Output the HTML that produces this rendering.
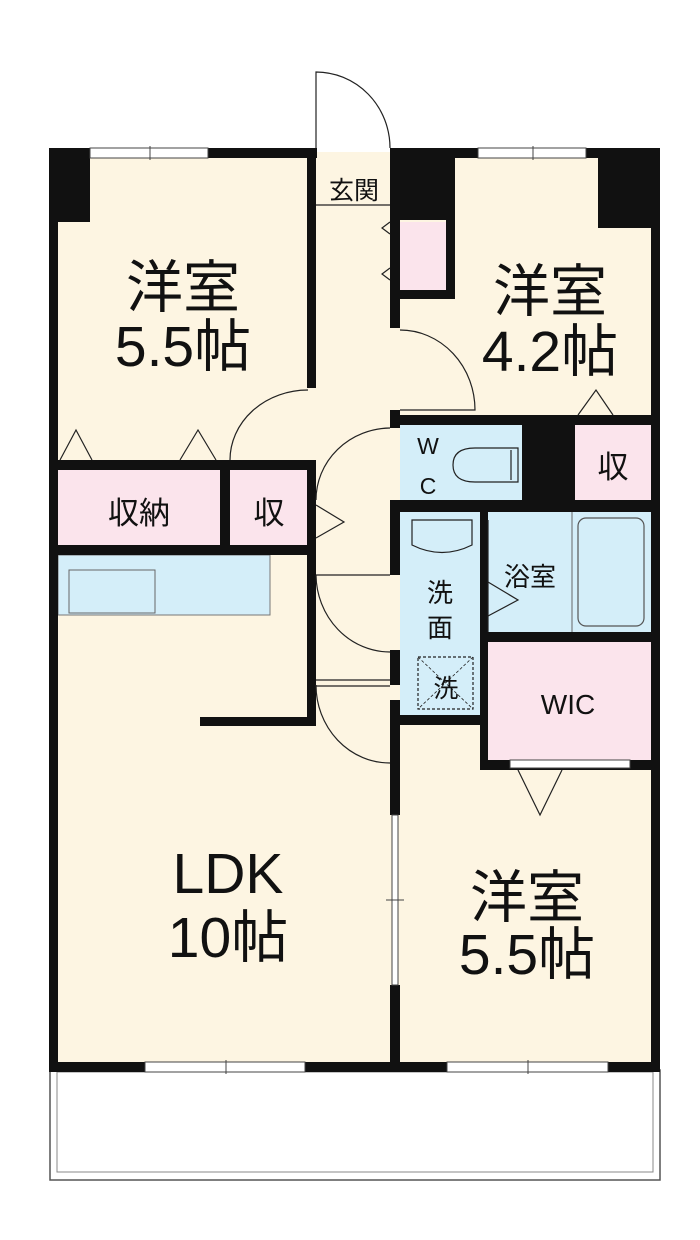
<!DOCTYPE html>
<html><head><meta charset="utf-8"><style>
html,body{margin:0;padding:0;background:#fff}
svg{display:block}
text{font-family:"Liberation Sans","Noto Sans CJK JP",sans-serif;fill:#111}
</style></head><body>
<svg width="700" height="1240" viewBox="0 0 700 1240" xmlns="http://www.w3.org/2000/svg">
<rect x="50" y="1070" width="610" height="110" fill="#fff" stroke="#555" stroke-width="1.5"/>
<rect x="57" y="1072" width="596" height="100" fill="none" stroke="#888" stroke-width="1"/>
<rect x="54" y="152" width="602" height="914" fill="#fdf5e2"/>
<rect x="58" y="470" width="162" height="75" fill="#fbe4ec"/>
<rect x="230" y="470" width="78" height="75" fill="#fbe4ec"/>
<rect x="400" y="222" width="46" height="68" fill="#fbe4ec"/>
<rect x="575" y="425" width="76" height="76" fill="#fbe4ec"/>
<rect x="487" y="642" width="164" height="120" fill="#fbe4ec"/>
<rect x="400" y="425" width="122" height="76" fill="#d4eef9"/>
<rect x="400" y="512" width="80" height="205" fill="#d4eef9"/>
<rect x="487" y="512" width="164" height="120" fill="#d4eef9"/>
<rect x="58" y="555" width="212" height="60" fill="#d4eef9" stroke="#777" stroke-width="1"/>
<rect x="69" y="570" width="86" height="43" fill="#d4eef9" stroke="#666" stroke-width="1"/>
<rect x="578" y="518" width="66" height="108" rx="8" fill="none" stroke="#555" stroke-width="1.2"/>
<line x1="572" y1="512" x2="572" y2="632" stroke="#666"/>
<g fill="#111">
<rect x="49" y="148" width="9" height="924"/>
<rect x="651" y="148" width="9" height="924"/>
<rect x="49" y="148" width="268" height="10"/>
<rect x="390" y="148" width="270" height="10"/>
<rect x="49" y="1062" width="611" height="10"/>
<rect x="49" y="148" width="41" height="74"/>
<rect x="598" y="148" width="62" height="80"/>
<rect x="390" y="148" width="65" height="72"/>
<rect x="446" y="148" width="9" height="150"/>
<rect x="390" y="290" width="65" height="9"/>
<rect x="307" y="148" width="9" height="240"/>
<rect x="307" y="460" width="9" height="265"/>
<rect x="200" y="717" width="116" height="9"/>
<rect x="49" y="460" width="267" height="10"/>
<rect x="220" y="460" width="10" height="95"/>
<rect x="49" y="545" width="267" height="10"/>
<rect x="390" y="148" width="10" height="180"/>
<rect x="390" y="410" width="10" height="18"/>
<rect x="390" y="500" width="10" height="75"/>
<rect x="390" y="650" width="10" height="35"/>
<rect x="390" y="700" width="10" height="115"/>
<rect x="390" y="985" width="10" height="85"/>
<rect x="390" y="415" width="270" height="10"/>
<rect x="522" y="415" width="53" height="90"/>
<rect x="390" y="500" width="270" height="12"/>
<rect x="480" y="505" width="8" height="265"/>
<rect x="390" y="715" width="98" height="10"/>
<rect x="480" y="632" width="180" height="10"/>
<rect x="480" y="760" width="180" height="10"/>
</g>
<g fill="#fff" stroke="#444" stroke-width="1">
<rect x="90" y="148" width="118" height="10"/>
<rect x="478" y="148" width="108" height="10"/>
<rect x="145" y="1062" width="160" height="10"/>
<rect x="447" y="1062" width="161" height="10"/>
<rect x="392" y="815" width="6" height="170"/>
<rect x="510" y="760" width="120" height="8"/>
</g>
<g stroke="#444" stroke-width="1">
<line x1="150" y1="146" x2="150" y2="160"/><line x1="533" y1="146" x2="533" y2="160"/>
<line x1="226" y1="1060" x2="226" y2="1074"/><line x1="528" y1="1060" x2="528" y2="1074"/>
<line x1="386" y1="900" x2="404" y2="900"/>
</g>
<g fill="none" stroke="#222" stroke-width="1.2">
<path d="M316 148 L316 72 A74 76 0 0 1 390 148"/>
<line x1="316" y1="205" x2="390" y2="205"/>
<path d="M400 330 A75 80 0 0 1 475 410 L400 410"/>
<path d="M308 390 A78 70 0 0 0 230 460"/>
<path d="M390 428 A75 72 0 0 0 316 500"/>
<path d="M316 575 A74 78 0 0 0 390 652"/>
<path d="M316 685 A74 78 0 0 0 390 763"/>
<line x1="316" y1="575" x2="390" y2="575"/>
<line x1="316" y1="680" x2="390" y2="680"/>
<line x1="316" y1="686" x2="390" y2="686"/>
<path d="M60 460 L76 430 L92 460"/><path d="M180 460 L198 430 L216 460"/>
<path d="M578 415 L596 390 L613 415"/>
<path d="M518 770 L540 815 L562 770"/>
<path d="M316 505 L344 522 L316 538"/>
<path d="M390 222 L382 228 L390 234 M390 268 L382 274 L390 280"/>
<path d="M488 582 L518 600 L488 616"/>
<path d="M488 520 L488 632"/>
<path d="M453 465 Q453 448 475 448 L518 448 L518 482 L475 482 Q453 482 453 465 Z"/>
<line x1="511" y1="450" x2="511" y2="480"/>
<path d="M412 520 L472 520 L472 545 Q442 560 412 545 Z"/>
<rect x="418" y="657" width="55" height="52" stroke-dasharray="3,2"/>
<path d="M418 657 L473 709 M473 657 L418 709" stroke-dasharray="3,2" stroke-width="0.8"/>
</g>
<g text-anchor="middle">
<text x="183" y="307" font-size="57">洋室</text>
<text x="183" y="366" font-size="57">5.5帖</text>
<text x="550" y="311" font-size="57">洋室</text>
<text x="550" y="371" font-size="57">4.2帖</text>
<text x="228" y="893" font-size="57">LDK</text>
<text x="228" y="957" font-size="57">10帖</text>
<text x="527" y="917" font-size="57">洋室</text>
<text x="527" y="974" font-size="57">5.5帖</text>
<text x="139" y="524" font-size="31">収納</text>
<text x="269" y="524" font-size="31">収</text>
<text x="613" y="478" font-size="31">収</text>
<text x="354" y="199" font-size="25">玄関</text>
<text x="428" y="454" font-size="23">W</text>
<text x="428" y="494" font-size="23">C</text>
<text x="440" y="602" font-size="26">洗</text>
<text x="440" y="637" font-size="26">面</text>
<text x="446" y="697" font-size="25">洗</text>
<text x="530" y="586" font-size="26">浴室</text>
<text x="568" y="714" font-size="28">WIC</text>
</g>
</svg>
</body></html>
